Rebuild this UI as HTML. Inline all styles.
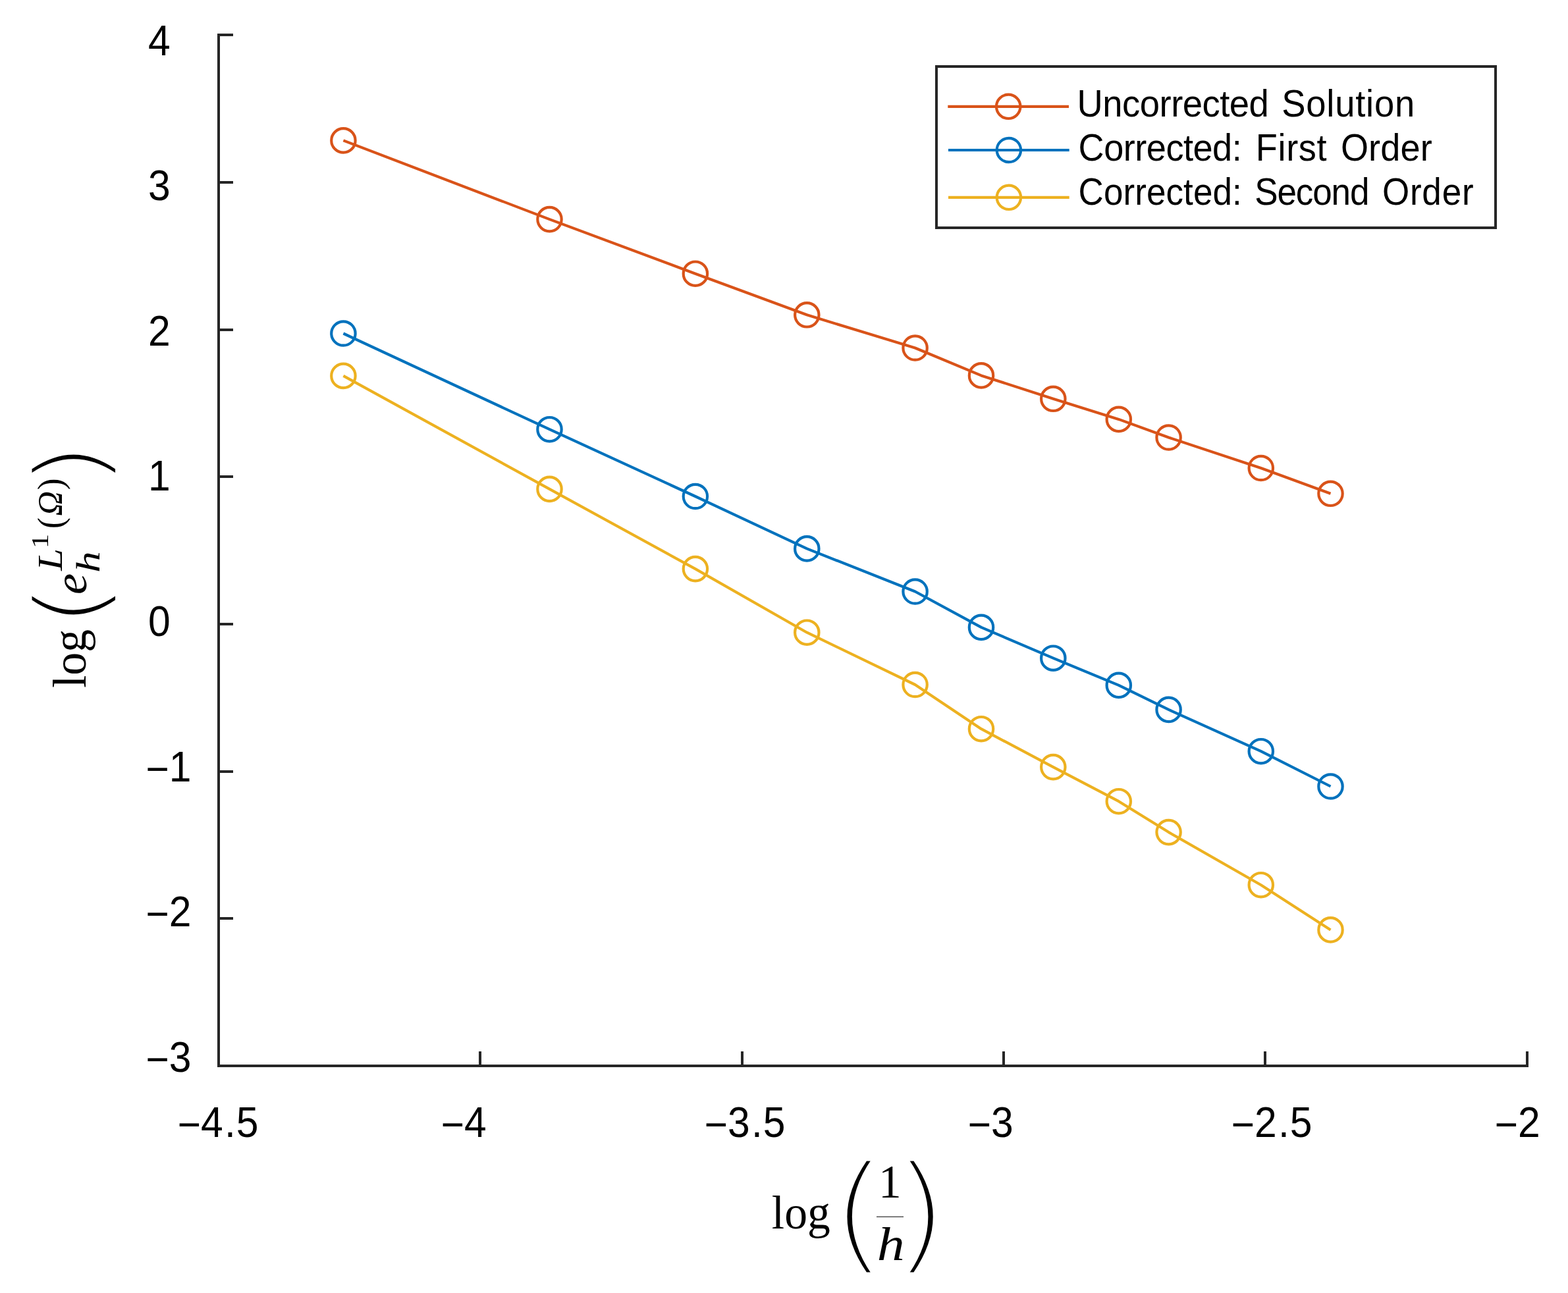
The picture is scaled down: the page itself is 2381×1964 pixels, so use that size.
<!DOCTYPE html>
<html lang="en"><head><meta charset="utf-8"><title>Convergence plot</title>
<style>html,body{margin:0;padding:0;background:#fff;}svg{display:block;}text{fill:#000;white-space:pre;}.sans{font-family:'Liberation Sans', sans-serif;}.serif{font-family:'Liberation Serif', serif;}.it{font-style:italic;}</style>
</head><body>
<svg width="2381" height="1964" viewBox="0 0 2381 1964">
<rect x="0" y="0" width="2381" height="1964" fill="#fff"/>
<g fill="#262626" shape-rendering="crispEdges">
<rect x="330" y="51" width="4" height="1570"/>
<rect x="330" y="1617" width="1991" height="4"/>
<rect x="330" y="51" width="24" height="4"/>
<rect x="330" y="275" width="24" height="4"/>
<rect x="330" y="499" width="24" height="4"/>
<rect x="330" y="722" width="24" height="4"/>
<rect x="330" y="946" width="24" height="4"/>
<rect x="330" y="1170" width="24" height="4"/>
<rect x="330" y="1393" width="24" height="4"/>
<rect x="727" y="1597" width="4" height="24"/>
<rect x="1125" y="1597" width="4" height="24"/>
<rect x="1522" y="1597" width="4" height="24"/>
<rect x="1919" y="1597" width="4" height="24"/>
<rect x="2317" y="1597" width="4" height="24"/>
</g>
<g fill="none" stroke="#D95319" stroke-width="4.17" stroke-linejoin="round">
<polyline points="521.4,213.4 834.5,333.1 1055.9,415.7 1225.3,478.3 1389.6,528.5 1490.0,570.4 1599.3,605.8 1698.8,636.9 1774.6,664.5 1914.8,711.0 2020.5,749.8"/>
<circle cx="521.4" cy="213.4" r="18.2"/>
<circle cx="834.5" cy="333.1" r="18.2"/>
<circle cx="1055.9" cy="415.7" r="18.2"/>
<circle cx="1225.3" cy="478.3" r="18.2"/>
<circle cx="1389.6" cy="528.5" r="18.2"/>
<circle cx="1490.0" cy="570.4" r="18.2"/>
<circle cx="1599.3" cy="605.8" r="18.2"/>
<circle cx="1698.8" cy="636.9" r="18.2"/>
<circle cx="1774.6" cy="664.5" r="18.2"/>
<circle cx="1914.8" cy="711.0" r="18.2"/>
<circle cx="2020.5" cy="749.8" r="18.2"/>
</g>
<g fill="none" stroke="#0072BD" stroke-width="4.17" stroke-linejoin="round">
<polyline points="521.4,506.5 834.5,652.2 1055.9,754.0 1225.3,833.4 1389.6,898.5 1490.0,952.9 1599.3,999.7 1698.8,1040.9 1774.6,1077.9 1914.8,1141.2 2020.5,1194.5"/>
<circle cx="521.4" cy="506.5" r="18.2"/>
<circle cx="834.5" cy="652.2" r="18.2"/>
<circle cx="1055.9" cy="754.0" r="18.2"/>
<circle cx="1225.3" cy="833.4" r="18.2"/>
<circle cx="1389.6" cy="898.5" r="18.2"/>
<circle cx="1490.0" cy="952.9" r="18.2"/>
<circle cx="1599.3" cy="999.7" r="18.2"/>
<circle cx="1698.8" cy="1040.9" r="18.2"/>
<circle cx="1774.6" cy="1077.9" r="18.2"/>
<circle cx="1914.8" cy="1141.2" r="18.2"/>
<circle cx="2020.5" cy="1194.5" r="18.2"/>
</g>
<g fill="none" stroke="#EDB120" stroke-width="4.17" stroke-linejoin="round">
<polyline points="521.4,570.9 834.5,742.9 1055.9,864.1 1225.3,960.7 1389.6,1040.0 1490.0,1107.2 1599.3,1165.1 1698.8,1217.2 1774.6,1264.1 1914.8,1344.2 2020.5,1412.4"/>
<circle cx="521.4" cy="570.9" r="18.2"/>
<circle cx="834.5" cy="742.9" r="18.2"/>
<circle cx="1055.9" cy="864.1" r="18.2"/>
<circle cx="1225.3" cy="960.7" r="18.2"/>
<circle cx="1389.6" cy="1040.0" r="18.2"/>
<circle cx="1490.0" cy="1107.2" r="18.2"/>
<circle cx="1599.3" cy="1165.1" r="18.2"/>
<circle cx="1698.8" cy="1217.2" r="18.2"/>
<circle cx="1774.6" cy="1264.1" r="18.2"/>
<circle cx="1914.8" cy="1344.2" r="18.2"/>
<circle cx="2020.5" cy="1412.4" r="18.2"/>
</g>
<rect x="1422" y="101" width="849" height="245" fill="#fff" stroke="#262626" stroke-width="4" shape-rendering="crispEdges"/>
<g fill="none" stroke="#D95319" stroke-width="4.17"><line x1="1439.3" y1="161.8" x2="1623.0" y2="161.8"/><circle cx="1531.2" cy="161.8" r="18.2"/></g>
<g fill="none" stroke="#0072BD" stroke-width="4.17"><line x1="1440.0" y1="228.0" x2="1623.7" y2="228.0"/><circle cx="1531.9" cy="228.0" r="18.2"/></g>
<g fill="none" stroke="#EDB120" stroke-width="4.17"><line x1="1440.0" y1="299.8" x2="1623.7" y2="299.8"/><circle cx="1531.9" cy="299.8" r="18.2"/></g>
<text class="sans" transform="translate(1639.4,176.6) scale(0.955,1)" font-size="57.0"><tspan x="-4.0" letter-spacing="-0.55">Uncorrected </tspan><tspan x="321.4" letter-spacing="0.77">Solution</tspan></text>
<text class="sans" transform="translate(1640.4,243.6) scale(0.950,1)" font-size="57.0"><tspan x="-3.0" letter-spacing="-0.53">Corrected: </tspan><tspan x="280.5" letter-spacing="0.64">First </tspan><tspan x="416.3" letter-spacing="0.13">Order</tspan></text>
<text class="sans" transform="translate(1640.4,310.6) scale(0.930,1)" font-size="57.0"><tspan x="-3.0" letter-spacing="0.08">Corrected: </tspan><tspan x="284.8" letter-spacing="-1.20">Second </tspan><tspan x="493.0" letter-spacing="0.87">Order</tspan></text>
<text class="sans" transform="translate(225.0,83.8) scale(0.940,1)" font-size="64.5">4</text>
<text class="sans" transform="translate(225.0,304.3) scale(0.940,1)" font-size="64.5">3</text>
<text class="sans" transform="translate(225.0,524.9) scale(0.940,1)" font-size="64.5">2</text>
<text class="sans" transform="translate(225.0,745.4) scale(0.940,1)" font-size="64.5">1</text>
<text class="sans" transform="translate(225.0,965.9) scale(0.940,1)" font-size="64.5">0</text>
<text class="sans" transform="translate(221.4,1186.5) scale(0.940,1)" font-size="64.5"><tspan dy="3">−</tspan><tspan dy="-3">1</tspan></text>
<text class="sans" transform="translate(221.4,1407.0) scale(0.940,1)" font-size="64.5"><tspan dy="3">−</tspan><tspan dy="-3">2</tspan></text>
<text class="sans" transform="translate(221.4,1627.5) scale(0.940,1)" font-size="64.5"><tspan dy="3">−</tspan><tspan dy="-3">3</tspan></text>
<text class="sans" transform="translate(269.7,1726.8) scale(0.940,1)" font-size="64.5"><tspan dy="3">−</tspan><tspan dy="-3">4</tspan><tspan dx="2.2">.</tspan><tspan dx="1.0">5</tspan></text>
<text class="sans" transform="translate(669.7,1726.8) scale(0.940,1)" font-size="64.5"><tspan dy="3">−</tspan><tspan dy="-3">4</tspan></text>
<text class="sans" transform="translate(1069.7,1726.8) scale(0.940,1)" font-size="64.5"><tspan dy="3">−</tspan><tspan dy="-3">3</tspan><tspan dx="2.2">.</tspan><tspan dx="1.0">5</tspan></text>
<text class="sans" transform="translate(1469.7,1726.8) scale(0.940,1)" font-size="64.5"><tspan dy="3">−</tspan><tspan dy="-3">3</tspan></text>
<text class="sans" transform="translate(1869.7,1726.8) scale(0.940,1)" font-size="64.5"><tspan dy="3">−</tspan><tspan dy="-3">2</tspan><tspan dx="2.2">.</tspan><tspan dx="1.0">5</tspan></text>
<text class="sans" transform="translate(2269.7,1726.8) scale(0.940,1)" font-size="64.5"><tspan dy="3">−</tspan><tspan dy="-3">2</tspan></text>
<g class="serif">
<text transform="translate(1171.80,1866.10) scale(0.9753,1)" font-size="71.50">log</text>
<text transform="translate(1259.90,1909.00) scale(1.1744,1)" font-family="'DejaVu Sans', 'Liberation Sans', sans-serif" font-size="191.82" font-weight="200" stroke="#fff" stroke-width="3.00" stroke-linejoin="round">(</text>
<text transform="translate(1333.90,1819.10) scale(0.9549,1)" font-size="72.75">1</text>
<text transform="translate(1331.80,1913.80) scale(1.1710,1)" font-size="71.76" font-style="italic">h</text>
<text transform="translate(1354.30,1909.00) scale(1.1672,1)" font-family="'DejaVu Sans', 'Liberation Sans', sans-serif" font-size="191.82" font-weight="200" stroke="#fff" stroke-width="3.00" stroke-linejoin="round">)</text>
<rect x="1331" y="1847.7" width="41" height="1" fill="#000" stroke="none"/>
</g>
<g class="serif" transform="translate(130,1044.1) rotate(-90)">
<text transform="translate(-1.00,0.00) scale(0.9753,1)" font-size="71.50">log</text>
<text transform="translate(91.90,27.10) scale(1.1683,1)" font-family="'DejaVu Sans', 'Liberation Sans', sans-serif" font-size="142.60" font-weight="200" stroke="#fff" stroke-width="1.00" stroke-linejoin="round">(</text>
<text transform="translate(141.20,1.10) scale(1.0246,1)" font-size="70.85" font-style="italic">e</text>
<text transform="translate(174.30,21.00) scale(1.2545,1)" font-size="51.60" font-style="italic">h</text>
<text transform="translate(177.30,-36.10) scale(1.1384,1)" font-size="53.06" font-style="italic">L</text>
<text transform="translate(210.90,-56.80) scale(1.2433,1)" font-size="36.18">1</text>
<text transform="translate(241.10,-35.00) scale(0.9135,1)" font-size="55.84">(</text>
<text transform="translate(260.60,-36.10) scale(0.9865,1)" font-size="52.70" font-style="italic">Ω</text>
<text transform="translate(299.90,-35.00) scale(0.9545,1)" font-size="55.84">)</text>
<text transform="translate(307.10,27.10) scale(1.1496,1)" font-family="'DejaVu Sans', 'Liberation Sans', sans-serif" font-size="142.60" font-weight="200" stroke="#fff" stroke-width="1.00" stroke-linejoin="round">)</text>
</g>
</svg>
</body></html>
